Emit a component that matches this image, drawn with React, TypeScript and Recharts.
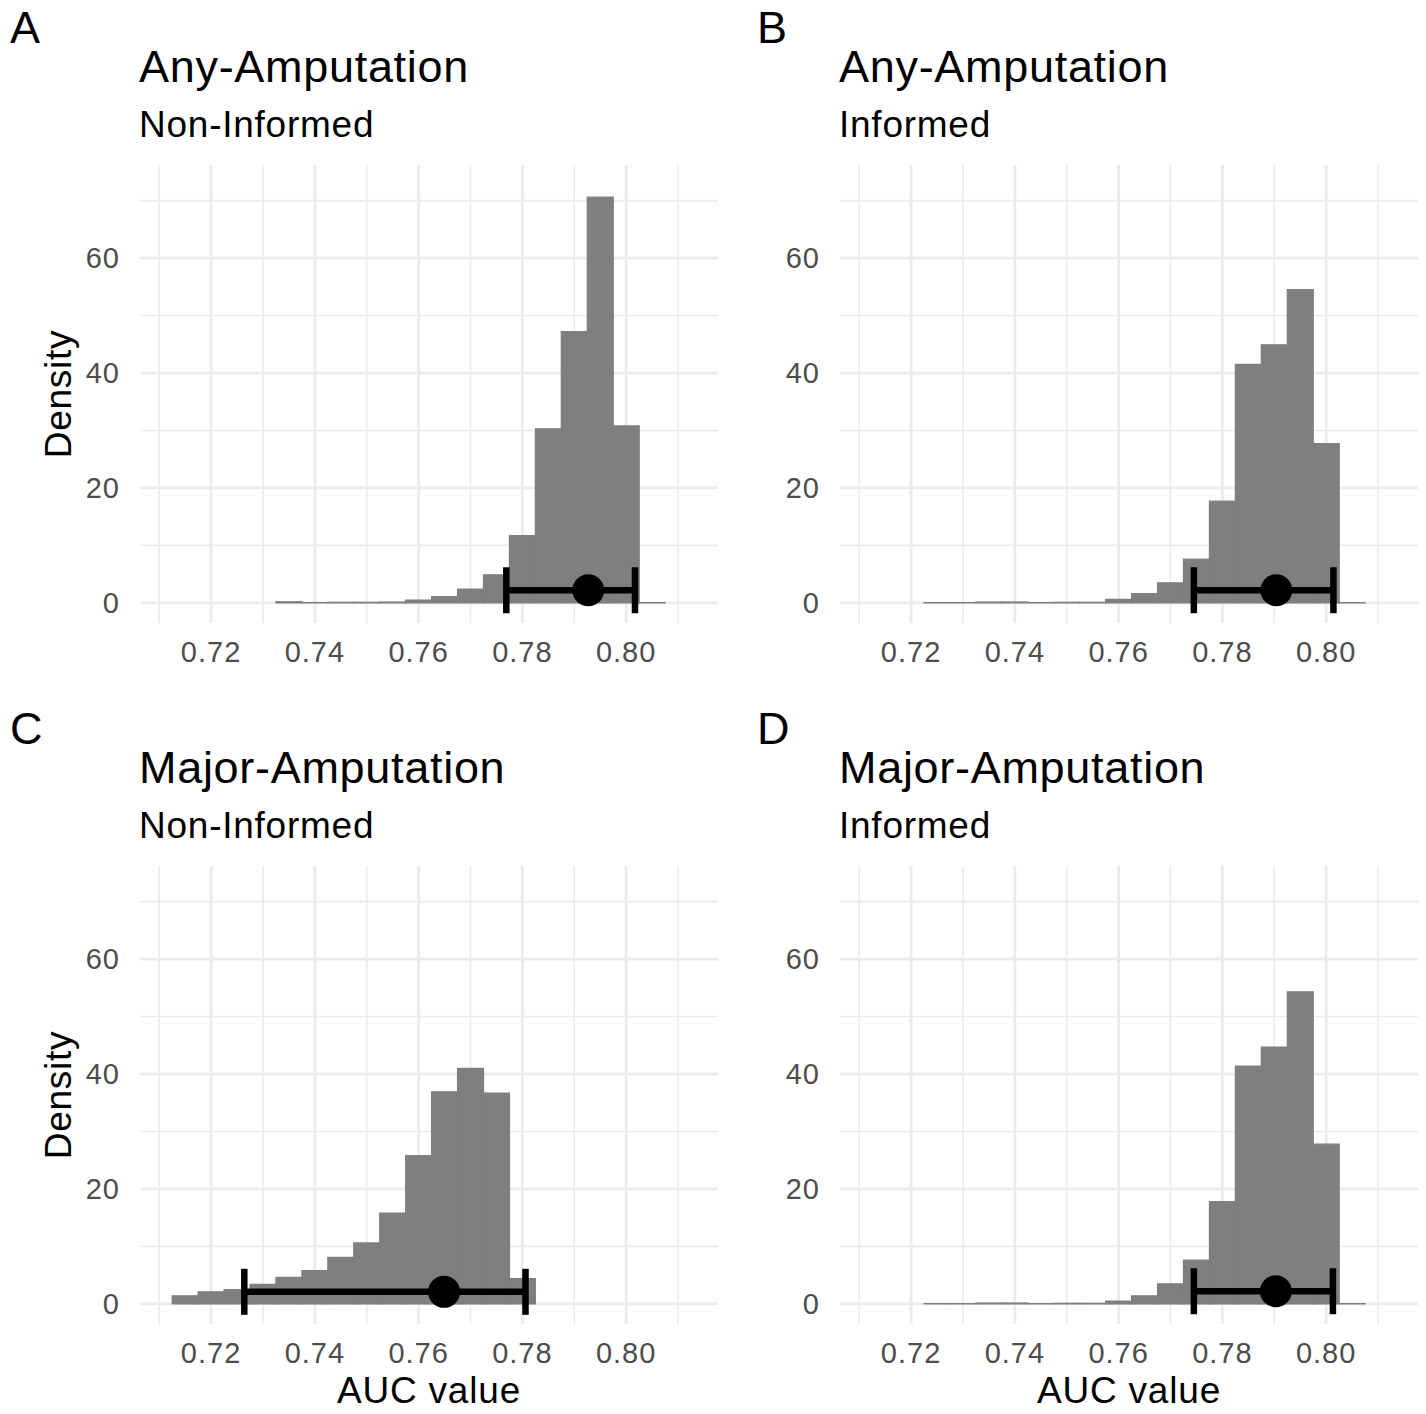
import React from 'react';
import { ComposedChart, Bar, Scatter, ErrorBar, XAxis, YAxis, CartesianGrid } from 'recharts';

const FONT = '"Liberation Sans", Arial, Helvetica, sans-serif';

const LETTERS = ['A', 'B', 'C', 'D'];
const TITLES = ['Any-Amputation', 'Any-Amputation', 'Major-Amputation', 'Major-Amputation'];
const SUBTITLES = ['Non-Informed', 'Informed', 'Non-Informed', 'Informed'];
const Y_TITLE = 'Density';
const X_TITLE = 'AUC value';

const X_TICKS = [0.72, 0.74, 0.76, 0.78, 0.8];
const X_MINOR = [0.71, 0.73, 0.75, 0.77, 0.79, 0.81];
const Y_TICKS = [0, 20, 40, 60];
const Y_MINOR = [10, 30, 50, 70];
const X_DOMAIN = [0.7063, 0.8177];
const Y_DOMAIN = [-3.5, 76.2];

// histogram bin centres (binwidth 0.005) and densities
const BINS_ANY_NON = [0.735, 0.74, 0.745, 0.75, 0.755, 0.76, 0.765, 0.77, 0.775, 0.78, 0.785, 0.79, 0.795, 0.8, 0.805];
const DENS_ANY_NON = [0.2, 0.05, 0.1, 0.1, 0.15, 0.5, 1.1, 2.4, 4.9, 11.7, 30.3, 47.2, 70.6, 30.8, 0.05];

const BINS_ANY_INF = [0.725, 0.73, 0.735, 0.74, 0.745, 0.75, 0.755, 0.76, 0.765, 0.77, 0.775, 0.78, 0.785, 0.79, 0.795, 0.8, 0.805];
const DENS_ANY_INF = [0.05, 0.05, 0.15, 0.15, 0.05, 0.1, 0.1, 0.6, 1.6, 3.5, 7.6, 17.7, 41.5, 44.9, 54.5, 27.7, 0.05];

const BINS_MAJ_NON = [0.715, 0.72, 0.725, 0.73, 0.735, 0.74, 0.745, 0.75, 0.755, 0.76, 0.765, 0.77, 0.775, 0.78];
const DENS_MAJ_NON = [1.4, 2.1, 2.5, 3.4, 4.6, 5.8, 8.1, 10.6, 15.8, 25.8, 36.9, 41.0, 36.7, 4.4];

const BINS_MAJ_INF = [0.725, 0.73, 0.735, 0.74, 0.745, 0.75, 0.755, 0.76, 0.765, 0.77, 0.775, 0.78, 0.785, 0.79, 0.795, 0.8, 0.805];
const DENS_MAJ_INF = [0.05, 0.05, 0.15, 0.15, 0.05, 0.1, 0.1, 0.5, 1.4, 3.5, 7.6, 17.8, 41.4, 44.7, 54.3, 27.8, 0.05];

const BINS = [BINS_ANY_NON, BINS_ANY_INF, BINS_MAJ_NON, BINS_MAJ_INF];
const DENS = [DENS_ANY_NON, DENS_ANY_INF, DENS_MAJ_NON, DENS_MAJ_INF];

// point estimate and interval
const AUC_EST = [0.7927, 0.7904, 0.7649, 0.7903];
const AUC_LO = [0.7769, 0.7745, 0.7264, 0.7745];
const AUC_HI = [0.8017, 0.8014, 0.7806, 0.8013];
const POINT_Y = [2.2, 2.2, 2.1, 2.2];

const PANEL_LEFT = [0, 700, 0, 700];
const PANEL_TOP = [150, 150, 851, 851];

const tickStyle = { fill: '#4D4D4D', fontSize: 29, fontFamily: FONT, letterSpacing: 1 };

const renderDot = (p: any) => <circle cx={p.cx} cy={p.cy} r={16} fill="#000" />;

function Panel({ i }: { i: number }) {
  const data = BINS[i].map((c, k) => ({ x: c, d: DENS[i][k] }));
  const pt = [
    { x: AUC_EST[i], y: POINT_Y[i], err: [AUC_EST[i] - AUC_LO[i], AUC_HI[i] - AUC_EST[i]] },
  ];
  return (
    <div style={{ position: 'absolute', left: PANEL_LEFT[i], top: PANEL_TOP[i] }}>
      <ComposedChart
        width={720}
        height={540}
        data={data}
        margin={{ top: 15, right: 2, bottom: 7, left: 40 }}
        barCategoryGap={0}
        barGap={0}
      >
        <CartesianGrid xAxisId="h" stroke="#EBEBEB" strokeWidth={1.6} verticalValues={X_MINOR} horizontalValues={Y_MINOR} />
        <CartesianGrid xAxisId="h" stroke="#EBEBEB" strokeWidth={2.8} verticalValues={X_TICKS} horizontalValues={Y_TICKS} />
        <XAxis
          xAxisId="h"
          dataKey="x"
          type="number"
          domain={X_DOMAIN}
          allowDataOverflow
          ticks={X_TICKS}
          interval={0}
          tickFormatter={(v: number) => v.toFixed(2)}
          axisLine={false}
          tickLine={false}
          tickSize={0}
          tickMargin={18}
          height={60}
          tick={tickStyle}
        />
        <XAxis xAxisId="p" dataKey="x" type="number" domain={X_DOMAIN} allowDataOverflow hide />
        <YAxis
          type="number"
          domain={Y_DOMAIN}
          allowDataOverflow
          ticks={Y_TICKS}
          interval={0}
          axisLine={false}
          tickLine={false}
          tickSize={0}
          tickMargin={20}
          width={100}
          tick={tickStyle}
        />
        <Bar xAxisId="h" dataKey="d" fill="#7F7F7F" stroke="#7F7F7F" strokeWidth={1.2} isAnimationActive={false} />
        <Scatter xAxisId="p" data={pt} dataKey="y" shape={renderDot} isAnimationActive={false}>
          <ErrorBar dataKey="err" direction="x" width={23} strokeWidth={6.5} stroke="#000" isAnimationActive={false} />
        </Scatter>
      </ComposedChart>
    </div>
  );
}

export default function App() {
  const rowOffset = 701;
  return (
    <div style={{ position: 'absolute', left: 0, top: 0, width: 1426, height: 1414, background: '#fff', fontFamily: FONT }}>
      {[0, 1, 2, 3].map((i) => (
        <Panel key={i} i={i} />
      ))}
      <svg width={1426} height={1414} style={{ position: 'absolute', left: 0, top: 0, pointerEvents: 'none' }}>
        {[0, 1, 2, 3].map((i) => {
          const dx = i % 2 === 0 ? 0 : 700;
          const dy = i < 2 ? 0 : rowOffset;
          return (
            <g key={i} fontFamily={FONT} fill="#000">
              <text x={10 + dx + (i % 2 === 0 ? 0 : 47)} y={43 + dy} fontSize={45}>{LETTERS[i]}</text>
              <text x={139 + dx} y={82 + dy} fontSize={45} letterSpacing={0.7}>{TITLES[i]}</text>
              <text x={139 + dx} y={137 + dy} fontSize={37} letterSpacing={0.75}>{SUBTITLES[i]}</text>
              {i % 2 === 0 && (
                <text x={71} y={394 + dy} fontSize={37} letterSpacing={0.7} textAnchor="middle" transform={`rotate(-90 71 ${394 + dy})`}>
                  {Y_TITLE}
                </text>
              )}
              {i >= 2 && (
                <text x={429 + dx} y={1403} fontSize={37} letterSpacing={0.8} textAnchor="middle">{X_TITLE}</text>
              )}
            </g>
          );
        })}
      </svg>
    </div>
  );
}
